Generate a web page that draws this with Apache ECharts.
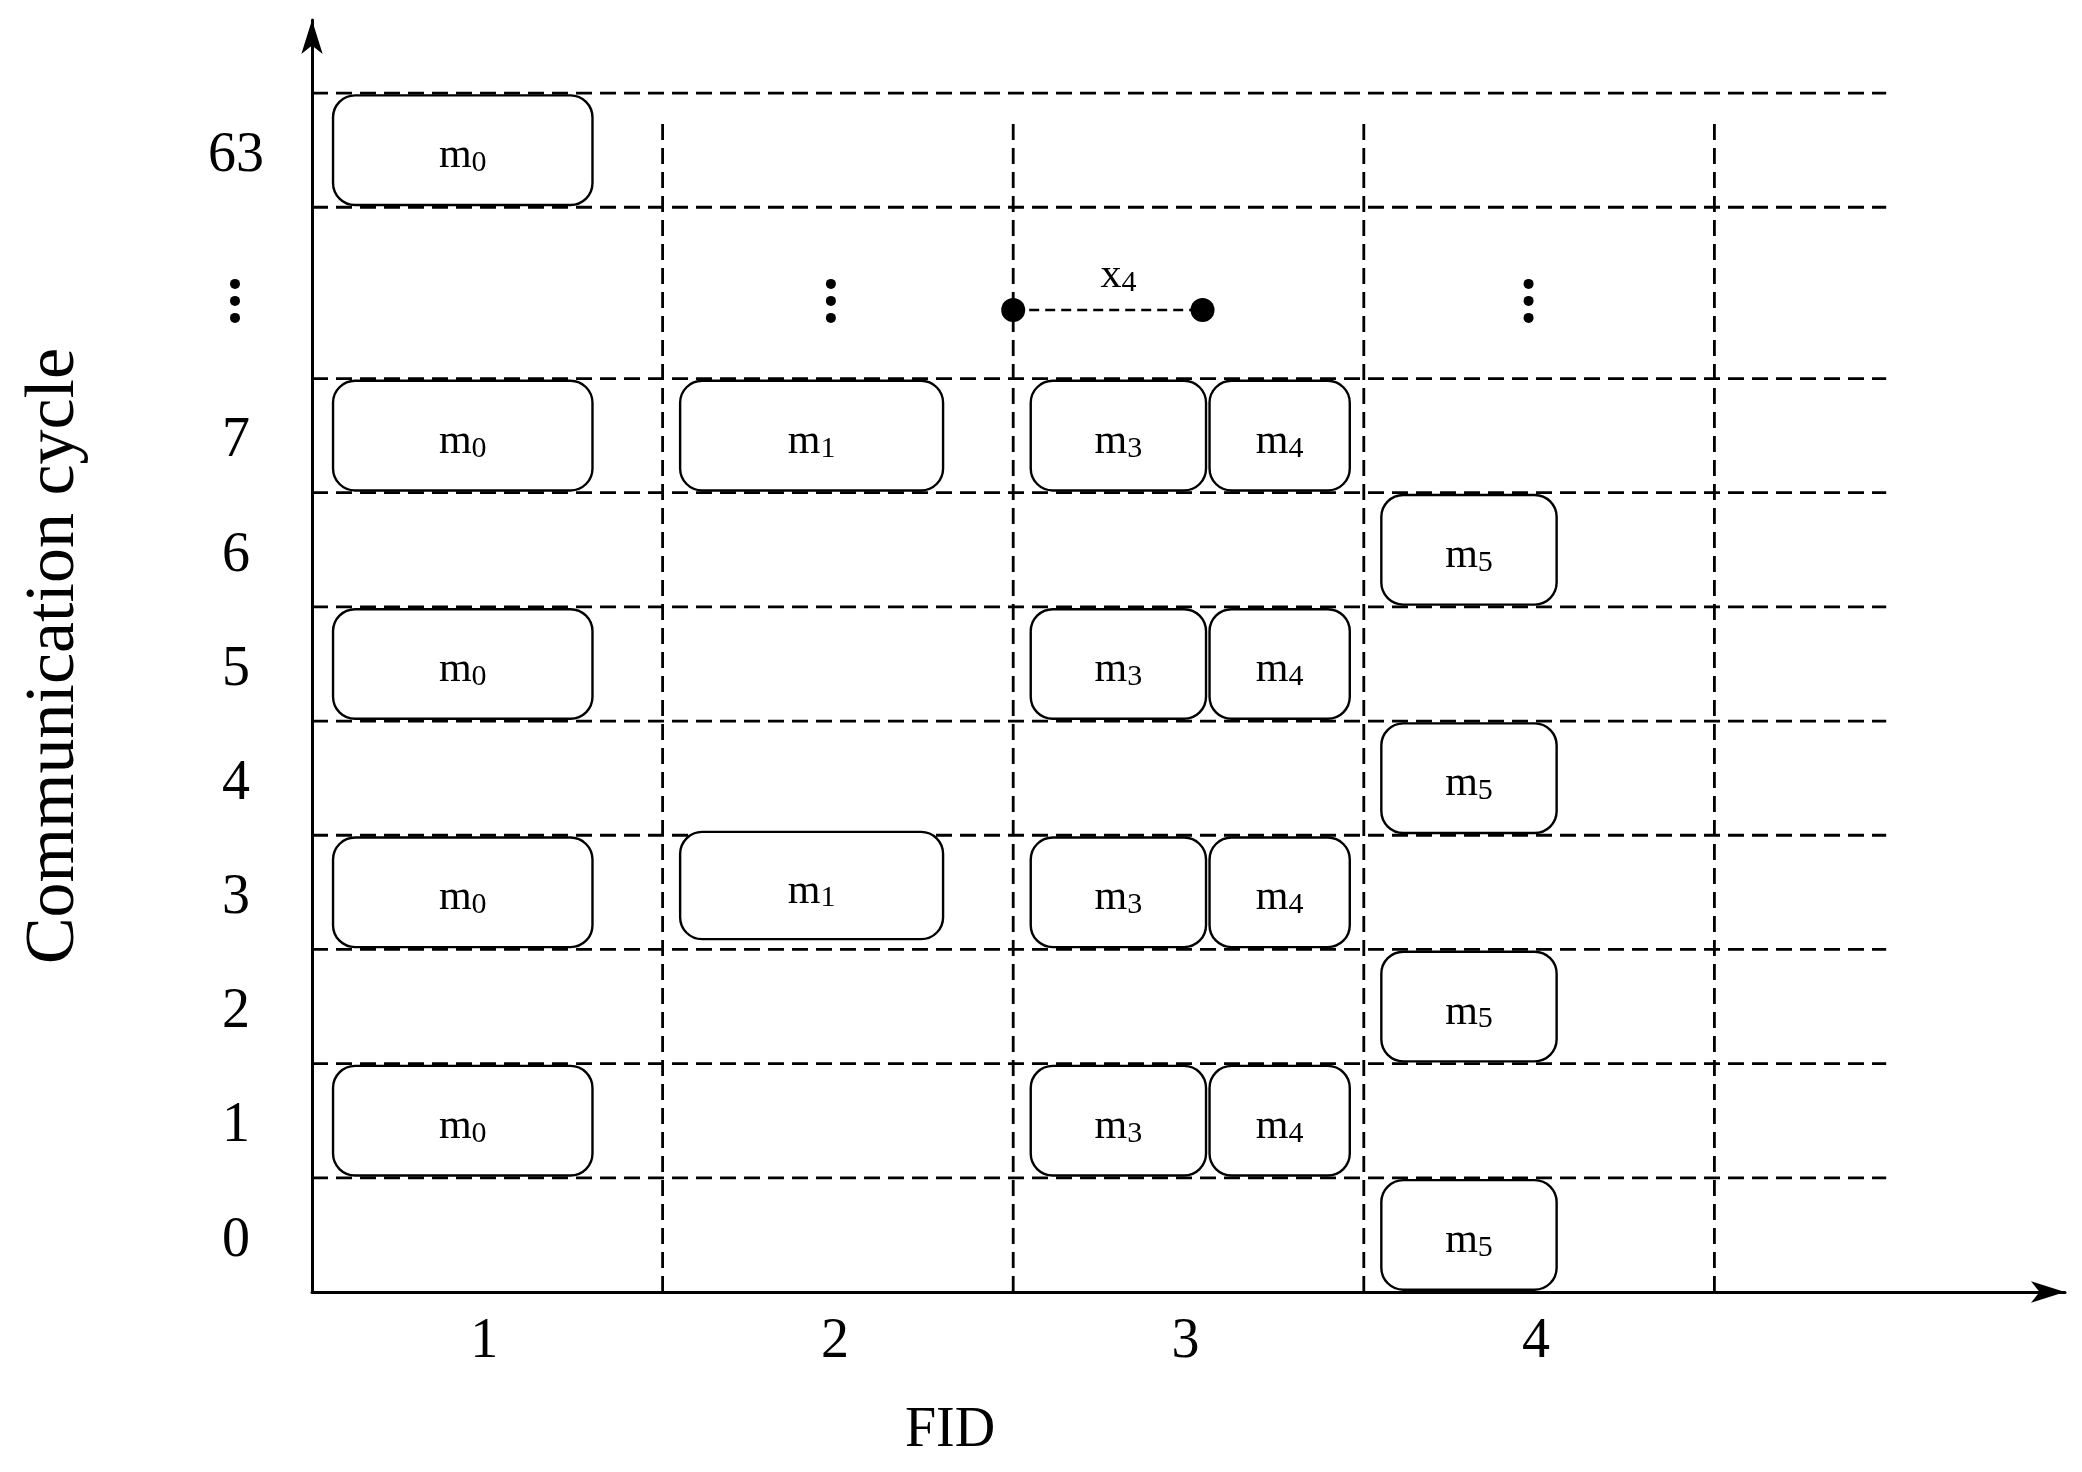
<!DOCTYPE html>
<html><head><meta charset="utf-8">
<script src="https://cdn.jsdelivr.net/npm/echarts@6/dist/echarts.min.js"></script>
<style>html,body{margin:0;padding:0;background:#fff}#c{width:2082px;height:1472px}</style>
</head><body><div id="c"></div>
<script>
// ---- data ----
const fidLabels = ['1','2','3','4'];
const cycleLabels = ['0','1','2','3','4','5','6','7','\u22EE','63'];
const cycleRowIndex = [0,1,2,3,4,5,6,7,8,9]; // row order bottom-up ('⋮' is the gap row)
const msgNames = ['m0','m0','m0','m0','m0','m1','m1','m3','m3','m3','m3','m4','m4','m4','m4','m5','m5','m5','m5'];
const msgFID   = [1,1,1,1,1,2,2,3,3,3,3,3,3,3,3,4,4,4,4];
const msgCycle = ['63','7','5','3','1','7','3','7','5','3','1','7','5','3','1','6','4','2','0'];
const offsetName = 'x4';

// ---- layout (not data) ----
const rowBottom = [0,1,2,3,4,5,6,7,8,9.5]; const rowTop = [1,2,3,4,5,6,7,8,9.5,10.5];
const slot = {m0:[0.06,0.80], m1:[1.05,1.80], m3:[2.05,2.55], m4:[2.56,2.96], m5:[3.05,3.55]};
const FONT = 'Liberation Serif';

function rowOf(label){ const i = cycleLabels.indexOf(label); return [rowBottom[i], rowTop[i]]; }

const boxData = msgNames.map((n,i)=>[n, msgFID[i], msgCycle[i]]);

const chart = echarts.init(document.getElementById('c'));
chart.setOption({
  animation:false,
  grid:{left:312,right:17,top:20,bottom:180},
  xAxis:{type:'value',min:0,max:5,splitLine:{show:false},axisTick:{show:false},axisLabel:{show:false},
    axisLine:{symbol:['none','arrow'],symbolSize:[16,34],lineStyle:{color:'#000',width:3}}},
  yAxis:{type:'value',min:0,max:11.14,splitLine:{show:false},axisTick:{show:false},axisLabel:{show:false},
    axisLine:{symbol:['none','arrow'],symbolSize:[16,34],lineStyle:{color:'#000',width:3}},
    name:'Communication cycle',nameLocation:'middle',nameGap:222,nameRotate:90,
    nameTextStyle:{fontFamily:FONT,fontSize:70,color:'#000'}},
  series:[
    { // dashed grid
      type:'custom',clip:false,silent:true,data:[0],
      renderItem:(p,api)=>{
        const ch=[];
        [1,2,3,4,5,6,7,8,9.5,10.5].forEach(y=>{const a=api.coord([0,y]),b=api.coord([4.49,y]);
          ch.push({type:'line',shape:{x1:a[0],y1:a[1],x2:b[0],y2:b[1]},style:{stroke:'#000',lineWidth:2.8,lineDash:[16,8]}});});
        [1,2,3,4].forEach(x=>{const a=api.coord([x,0]),b=api.coord([x,10.27]);
          ch.push({type:'line',shape:{x1:a[0],y1:a[1],x2:b[0],y2:b[1]},style:{stroke:'#000',lineWidth:2.8,lineDash:[16,8]}});});
        return {type:'group',children:ch};
      }
    },
    { // message boxes
      type:'custom',clip:false,data:boxData,
      renderItem:(p,api)=>{
        const d=boxData[p.dataIndex]; const name=d[0]; const s=slot[name]; const r=rowOf(d[2]);
        let y0=r[0]+0.02, y1=r[1]-0.02;
        if(name==='m1' && d[2]==='3'){y0+=0.07;y1+=0.05;}
        const a=api.coord([s[0],y1]), b=api.coord([s[1],y0]);
        return {type:'group',children:[
          {type:'rect',shape:{x:a[0],y:a[1],width:b[0]-a[0],height:b[1]-a[1],r:22},style:{fill:'#fff',stroke:'#000',lineWidth:2.4}},
          {type:'text',x:(a[0]+b[0])/2,y:(a[1]+b[1])/2+6,style:{text:'{m|m}{s|'+name.slice(1)+'}',align:'center',verticalAlign:'middle',
            rich:{m:{fontFamily:FONT,fontSize:42,fill:'#000'},s:{fontFamily:FONT,fontSize:30,fill:'#000',padding:[14,0,0,0]}}}}
        ]};
      }
    },
    { // tick labels, dots, annotations
      type:'custom',clip:false,silent:true,data:[0],
      renderItem:(p,api)=>{
        const ch=[];
        cycleLabels.forEach((l,i)=>{
          const yc=(rowBottom[cycleRowIndex[i]]+rowTop[cycleRowIndex[i]])/2;
          const c=api.coord([0,yc]);
          if(l==='\u22EE'){ [-17,0,17].forEach(dy=>ch.push({type:'circle',shape:{cx:c[0]-77,cy:c[1]+dy+8,r:5},style:{fill:'#000'}})); }
          else ch.push({type:'text',x:c[0]-76,y:c[1]+6,style:{text:l,align:'center',verticalAlign:'middle',fontFamily:FONT,fontSize:56,fill:'#000'}});
        });
        fidLabels.forEach((l,i)=>{const c=api.coord([i+0.5,0]);
          ch.push({type:'text',x:c[0]-3,y:c[1]+50,style:{text:l,align:'center',verticalAlign:'middle',fontFamily:FONT,fontSize:56,fill:'#000'}});});
        [1.48,3.47].forEach(x=>{const c=api.coord([x,8.75]);
          [-17,0,17].forEach(dy=>ch.push({type:'circle',shape:{cx:c[0],cy:c[1]+dy+8,r:5},style:{fill:'#000'}}));});
        const a=api.coord([2.0,8.6]), b=api.coord([2.54,8.6]);
        ch.push({type:'line',shape:{x1:a[0],y1:a[1],x2:b[0],y2:b[1]},style:{stroke:'#000',lineWidth:2.5,lineDash:[10,6]}});
        ch.push({type:'circle',shape:{cx:a[0],cy:a[1],r:12},style:{fill:'#000'}});
        ch.push({type:'circle',shape:{cx:b[0],cy:b[1],r:12},style:{fill:'#000'}});
        const t=api.coord([2.3,8.9]);
        ch.push({type:'text',x:t[0],y:t[1],style:{text:'{m|x}{s|'+offsetName.slice(1)+'}',align:'center',verticalAlign:'middle',
          rich:{m:{fontFamily:FONT,fontSize:42,fill:'#000'},s:{fontFamily:FONT,fontSize:30,fill:'#000',padding:[14,0,0,0]}}}});
        const f=api.coord([1.82,-1.22]);
        ch.push({type:'text',x:f[0],y:f[1],style:{text:'FID',align:'center',verticalAlign:'middle',fontFamily:FONT,fontSize:56,fill:'#000'}});
        return {type:'group',children:ch};
      }
    }
  ]
});
</script></body></html>
